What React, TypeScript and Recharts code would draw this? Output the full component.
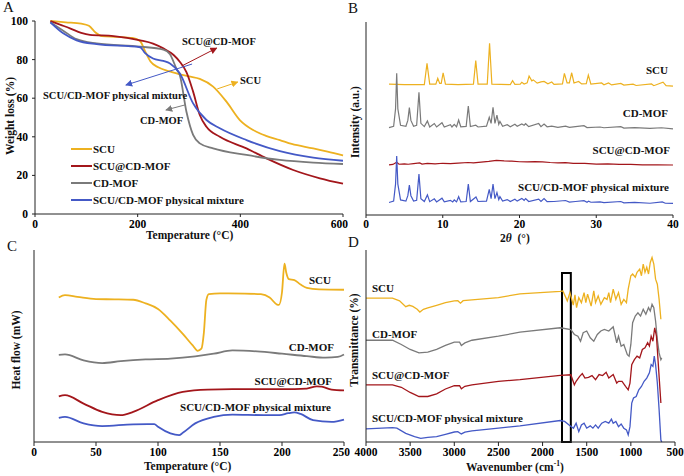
import React from "react";
import {
  LineChart,
  Line,
  XAxis,
  YAxis,
  Legend,
  ReferenceLine,
  ReferenceArea,
} from "recharts";

type Pt = [number, number];

const FONT = '"Liberation Serif", "Times New Roman", serif';
const YELLOW = "#EDB120";
const RED = "#A3161B";
const GRAY = "#7A7A7A";
const BLUE = "#4459C6";
const AXIS = "#222";

// series names, shared by all four panels
const SCU = "SCU";
const SCU_CD = "SCU@CD-MOF";
const CD = "CD-MOF";
const MIX = "SCU/CD-MOF physical mixture";

// A: TGA, temperature (°C) vs weight (%)
const tgaScu: Pt[] = [
  [30, 100], [60, 99.3], [90, 98.6], [105, 97.5], [118, 94], [130, 92.2], [160, 91.8],
  [190, 91.2], [205, 89.5], [215, 84], [225, 79], [240, 76], [260, 74], [282, 72.4],
  [300, 71.3], [321, 70], [347, 66], [373, 58.2], [399, 48.7], [425, 43.5], [450, 40.5],
  [477, 38.3], [500, 36.3], [542, 34], [570, 32.3], [600, 30.3],
];
const tgaScuCd: Pt[] = [
  [30, 100], [50, 98], [68, 96.2], [90, 93.8], [107, 92.8], [153, 92.2], [205, 90],
  [230, 88.3], [250, 85.8], [270, 82.4], [282, 78.9], [295, 73.5], [308, 63.4], [321, 51.3],
  [334, 45.2], [360, 40], [412, 34], [451, 28.8], [503, 22.8], [555, 18.5], [600, 15.7],
];
const tgaCd: Pt[] = [
  [30, 99.3], [55, 95], [81, 90.6], [120, 88.4], [205, 86.7], [250, 85.2], [263, 82.8],
  [276, 75], [282, 72], [295, 53], [308, 41], [321, 36.6], [347, 34], [412, 30.6],
  [477, 28], [542, 26.6], [600, 25.9],
];
const tgaMix: Pt[] = [
  [30, 99.3], [55, 93.6], [81, 90], [120, 88], [205, 86.4], [214, 83.5], [230, 80.6],
  [250, 79.3], [263, 78], [282, 72.9], [308, 57.3], [334, 48.7], [360, 44.4], [412, 38.3],
  [477, 32.6], [542, 29.2], [600, 27.6],
];
// arrows pointing at the curve names, in data units: from -> to
const tgaArrows = [
  { id: "red", color: RED, from: [286, 76.7], to: [354, 86] },
  { id: "yellow", color: YELLOW, from: [355, 64.8], to: [395, 68.4] },
  { id: "blue", color: BLUE, from: [306, 77.7], to: [177, 66.8] },
  { id: "gray", color: GRAY, from: [292, 56.5], to: [255, 53.9] },
];

// B: XRD, 2θ vs intensity (a.u., stacked)
const xrdScu: Pt[] = [
  [3, 67.8], [5, 67.6], [7.6, 67.6], [7.95, 78.6], [8.3, 67.8], [9.1, 67.8], [9.35, 70.8],
  [9.6, 68.2], [9.8, 68.2], [10.05, 73.7], [10.35, 67.8], [12, 67.6], [14.0, 67.8],
  [14.3, 80], [14.6, 67.8], [15.8, 67.8], [16.1, 89], [16.4, 67.8], [18.8, 67.6],
  [19.1, 69.6], [19.4, 67.7], [20.1, 67.8], [20.3, 68.8], [20.6, 67.9], [21.0, 68.5],
  [21.25, 72], [21.6, 69.5], [21.8, 70], [22.3, 68.3], [22.8, 69], [23.2, 69.2],
  [23.7, 68], [24.2, 68.9], [24.5, 67.7], [25.6, 67.9], [25.85, 73.4], [26.2, 68.5],
  [26.5, 68.5], [26.8, 73.7], [27.1, 68.4], [27.7, 69.2], [28.1, 67.9], [28.7, 68],
  [28.97, 72.5], [29.3, 67.8], [30.7, 68.4], [31, 67.5], [31.6, 68.4], [32, 67.4],
  [33.2, 68.2], [33.6, 67.3], [34.8, 67.8], [35.2, 67.1], [37.2, 67.9], [37.5, 67],
  [38.7, 68.8], [39.1, 67], [40, 66.8],
];
const xrdCd: Pt[] = [
  [3, 45.3], [3.6, 46], [3.85, 55], [4.0, 73.4], [4.15, 55], [4.5, 46.5], [5.2, 46],
  [5.45, 49], [5.65, 55.6], [5.85, 49], [6.2, 46], [6.6, 46.5], [6.9, 63.6], [7.15, 47.5],
  [7.6, 45.8], [8.0, 48.7], [8.3, 45.6], [8.9, 47.4], [9.2, 45.6], [9.9, 47.8], [10.2, 45.6],
  [11.0, 46.8], [11.2, 45.6], [11.5, 47], [11.8, 45.7], [12.07, 49.2], [12.35, 45.7],
  [13.05, 45.9], [13.33, 56.5], [13.6, 45.8], [14.3, 46.5], [14.6, 45.6], [15.7, 46],
  [16.06, 50.6], [16.3, 47.5], [16.55, 55.8], [16.8, 47.5], [17.06, 51.8], [17.3, 47],
  [17.45, 48.5], [17.8, 46], [18.4, 46.8], [18.8, 45.7], [19.4, 47], [19.7, 46],
  [20.3, 47.2], [20.6, 46.5], [20.8, 47.3], [21.2, 45.8], [22.5, 47.4], [22.8, 45.8],
  [23.2, 47.1], [23.6, 45.7], [24.2, 46], [25, 45.4], [26, 46], [26.5, 45.4], [27.3, 45.8],
  [28.4, 46.3], [28.8, 45.3], [30.5, 45.6], [31, 45.2], [33.2, 45.8], [33.6, 45],
  [35, 45.3], [37, 44.9], [38.5, 45.2], [40, 44.6],
];
const xrdScuCd: Pt[] = [
  [3, 26], [3.5, 26.2], [4.0, 27.3], [4.3, 26.3], [5, 26.5], [5.5, 26.3], [6.2, 26.6],
  [7.0, 27], [7.3, 26.4], [8, 26.7], [9, 26.5], [10, 26.8], [11, 26.6], [12, 26.9],
  [13.3, 27.2], [14, 27], [15, 27.4], [16, 27.8], [17, 28.3], [18, 28], [19, 27.9],
  [20, 27.6], [21, 27.5], [22, 27.7], [23, 27.5], [24, 27.2], [25, 27], [26, 27.1],
  [27, 26.7], [28.5, 26.7], [30, 26.4], [31.5, 26.5], [33, 26.2], [34.5, 26.2],
  [36, 26], [38, 26], [40, 25.9],
];
const xrdMix: Pt[] = [
  [3, 6.5], [3.6, 7.2], [3.85, 16], [4.0, 30.6], [4.15, 16], [4.5, 7.8], [5.2, 7.2],
  [5.45, 10], [5.65, 15.5], [5.85, 10], [6.2, 7.2], [6.6, 7.6], [6.9, 21.2], [7.15, 8.5],
  [7.6, 7], [8.0, 10.4], [8.3, 6.9], [8.9, 8.4], [9.2, 6.8], [9.9, 8.7], [10.2, 6.8],
  [11.0, 7.6], [11.3, 6.8], [11.5, 7.8], [11.8, 6.8], [12.07, 9.5], [12.35, 6.8],
  [13.05, 7], [13.33, 16], [13.6, 7], [14.33, 9.3], [14.6, 7], [15.7, 7.2], [16.06, 13.3],
  [16.3, 8.5], [16.55, 16], [16.8, 8.5], [17.06, 11.6], [17.3, 8], [17.45, 9.5],
  [17.8, 7.2], [18.4, 8], [18.8, 7], [19.4, 8.2], [19.7, 7.2], [20.3, 8.6], [20.6, 7.6],
  [20.8, 8.5], [21.2, 7], [22.5, 8.2], [22.8, 7], [23.2, 8.5], [23.6, 6.9], [24.5, 7],
  [26, 7.5], [26.5, 6.7], [27.3, 7], [28.4, 7.4], [28.8, 6.6], [29, 7.2], [29.3, 6.6],
  [30.5, 6.8], [31, 6.4], [33.2, 7], [33.6, 6.3], [35, 6.5], [37, 6.1], [38.6, 6.8],
  [39, 6.1], [40, 6],
];

// C: DSC, temperature (°C) vs heat flow (stacked)
const dscScu: Pt[] = [
  [20, 75.3], [25, 76.5], [35, 75.6], [50, 74.4], [65, 74.3], [80, 74.1], [90, 72.2],
  [100, 69.3], [110, 63.2], [120, 56.3], [128, 50.3], [132, 47.5], [135, 48.6], [137, 57],
  [139, 74], [141, 77], [150, 77.4], [170, 77.3], [183, 77], [190, 75.3], [196, 71.6],
  [197.5, 71.4], [200, 78], [202, 92.9], [203.5, 88], [205.5, 84.8], [210, 84.3],
  [215, 82], [220, 80.3], [230, 79.5], [250, 79.3],
];
const dscCd: Pt[] = [
  [20, 45.4], [25, 45.6], [40, 42.5], [55, 41.1], [70, 42.1], [90, 43], [110, 43.4],
  [130, 44.6], [145, 46], [160, 47.7], [180, 47.2], [200, 46], [220, 44.7], [235, 43.9],
  [245, 44.3], [250, 45.6],
];
const dscScuCd: Pt[] = [
  [20, 23.8], [25, 24.4], [40, 20], [55, 15.7], [70, 14], [80, 15.7], [100, 21.8],
  [120, 26.1], [140, 27.3], [160, 27.5], [200, 27.5], [220, 27.8], [228, 29], [232, 28.8],
  [240, 27.3], [250, 26.9],
];
const dscMix: Pt[] = [
  [20, 12.6], [25, 13.1], [40, 9.7], [55, 8.3], [80, 9.2], [97, 9.3], [100, 7.9],
  [110, 4.5], [117, 3.6], [120, 4.8], [130, 9.7], [145, 13.1], [160, 14.3], [185, 14],
  [198, 14], [205, 15], [210, 15.4], [215, 14.6], [225, 11.4], [240, 10.5], [250, 11.7],
];

// D: FTIR, wavenumber (cm-1) vs transmittance (stacked)
const ftirScu: Pt[] = [
  [4000, 74.9], [3700, 74.9], [3620, 73.5], [3550, 70.5], [3510, 71.2], [3470, 70.6],
  [3420, 69.1], [3390, 67.7], [3350, 69.1], [3300, 69.8], [3200, 71.2], [3100, 72.6],
  [3000, 73.5], [2960, 73.6], [2930, 72.3], [2900, 73.6], [2800, 74], [2500, 75.2],
  [2256, 77.2], [1800, 78.4], [1770, 78.7], [1720, 73.5], [1690, 77.8], [1652, 71.3],
  [1633, 76.6], [1615, 70], [1590, 75.2], [1560, 72.6], [1530, 77.8], [1510, 72.6],
  [1490, 77], [1450, 70.8], [1420, 78.7], [1400, 72.6], [1370, 76.1], [1340, 71.7],
  [1300, 75.2], [1270, 74.3], [1250, 77.8], [1230, 72.6], [1200, 79.6], [1170, 74.3],
  [1140, 77.8], [1110, 71.7], [1080, 74.3], [1050, 72.6], [1030, 79.6], [1000, 86.6],
  [980, 87.5], [950, 85.8], [930, 88.4], [900, 90], [880, 86.6], [860, 92.7], [840, 88.4],
  [820, 91], [800, 87.5], [780, 93.5], [760, 96.1], [740, 92.7], [720, 84.8], [700, 82.2],
  [680, 74.3], [660, 63.9],
];
const ftirCd: Pt[] = [
  [4000, 53], [3700, 53], [3600, 50.8], [3500, 48.2], [3400, 46.4], [3300, 46.8],
  [3200, 48.2], [3100, 50.3], [3000, 52], [2940, 52], [2920, 50.3], [2880, 51.6],
  [2800, 53], [2500, 55.1], [2256, 57.2], [1800, 59.5], [1680, 58.6], [1640, 56],
  [1600, 55.1], [1570, 52.5], [1540, 56.9], [1500, 57.8], [1460, 54.3], [1420, 52.5],
  [1380, 56], [1340, 57.8], [1300, 58.6], [1250, 57.8], [1200, 60], [1160, 51.7],
  [1140, 55.1], [1110, 49.9], [1080, 50.8], [1040, 45.5], [1020, 44.7], [1000, 50.8],
  [980, 62.1], [950, 65.6], [920, 67.3], [890, 65.6], [860, 69.1], [830, 66.5], [800, 70],
  [780, 68.2], [760, 71.7], [740, 70], [720, 63], [700, 53.4], [680, 46.4], [660, 42.9],
  [650, 43.8],
];
const ftirScuCd: Pt[] = [
  [4000, 29.8], [3700, 29.8], [3600, 28.5], [3500, 25.8], [3400, 23.7], [3300, 23.7],
  [3200, 25.1], [3100, 27.6], [3000, 29.3], [2940, 29.3], [2920, 27.7], [2880, 29],
  [2800, 29.8], [2500, 31.6], [2256, 32.5], [1800, 34.7], [1680, 35], [1640, 29.8],
  [1620, 31.6], [1580, 34.2], [1550, 35.6], [1520, 33.3], [1480, 33.7], [1440, 34.6],
  [1400, 32.5], [1360, 35.1], [1320, 34.6], [1280, 36.3], [1250, 33.3], [1200, 35.1],
  [1160, 30.7], [1140, 31.6], [1100, 31.6], [1060, 29], [1030, 27.2], [1010, 30.7],
  [990, 40.3], [960, 42.9], [930, 44.7], [900, 43.8], [870, 48.2], [840, 49.1],
  [810, 51.7], [790, 50], [770, 55.1], [750, 52.5], [730, 59.5], [710, 55.1], [700, 48.2],
  [680, 34.2], [660, 20.3],
];
const ftirMix: Pt[] = [
  [4000, 6.8], [3700, 7.5], [3650, 7.2], [3550, 4.5], [3450, 2.8], [3380, 1.9],
  [3300, 2.4], [3200, 2.8], [3100, 4], [3000, 5.2], [2960, 5.4], [2920, 4.2], [2880, 5.1],
  [2800, 5.8], [2500, 7.2], [2256, 8.4], [1800, 11.2], [1750, 10.7], [1700, 8.9],
  [1650, 7.2], [1620, 9.8], [1590, 5.4], [1560, 8.9], [1530, 9.8], [1500, 7.2],
  [1460, 8.4], [1430, 7.2], [1400, 8.9], [1370, 7.2], [1330, 9.8], [1290, 10.7],
  [1250, 9.8], [1220, 11.9], [1200, 9.8], [1170, 10.7], [1140, 8], [1110, 9.4], [1080, 7.2],
  [1050, 6.3], [1030, 3.7], [1010, 8], [990, 20.3], [970, 22.9], [940, 23.7], [910, 27.2],
  [880, 28.9], [850, 31.6], [820, 33.3], [790, 36], [770, 40.3], [750, 39.4], [735, 44.7],
  [720, 40.3], [700, 30.7], [680, 16.8], [660, 1], [650, 0],
];
// the boxed band around 1700 cm-1
const ftirBox = { from: 1780, to: 1680, top: 88 };

const tgaTicksX = [0, 200, 400, 600];
const tgaTicksY = [0, 20, 40, 60, 80, 100];
const xrdTicks = [0, 10, 20, 30, 40];
const dscTicks = [0, 50, 100, 150, 200, 250];
const ftirTicks = [4000, 3500, 3000, 2500, 2000, 1500, 1000, 500];

const pts = (a: Pt[]) => a.map(([x, y]) => ({ x, y }));

const tickStyle = { fill: "#000", fontSize: 11.5, fontWeight: 700, fontFamily: FONT };

function Tag({ x, y, end, size = 11, children }: any) {
  return (
    <div
      style={{
        position: "absolute",
        left: x,
        top: y,
        transform: `translate(${end ? "-100%" : "0"}, -50%)`,
        fontFamily: FONT,
        fontWeight: 700,
        fontSize: size,
        lineHeight: 1,
        whiteSpace: "nowrap",
        color: "#111",
      }}
    >
      {children}
    </div>
  );
}

function VTitle({ x, y, children }: any) {
  return (
    <div
      style={{
        position: "absolute",
        left: x,
        top: y,
        transform: "translate(-50%, -50%) rotate(-90deg)",
        fontFamily: FONT,
        fontWeight: 700,
        fontSize: 11.5,
        lineHeight: 1,
        whiteSpace: "nowrap",
        color: "#111",
      }}
    >
      {children}
    </div>
  );
}

function Letter({ x, y, children }: any) {
  return (
    <div style={{ position: "absolute", left: x, top: y, fontFamily: FONT, fontSize: 15, lineHeight: 1, color: "#111" }}>
      {children}
    </div>
  );
}

function series(list: [Pt[], string, string][], width: number, type: "monotone" | "linear") {
  return list.map(([d, name, color]) => (
    <Line
      key={name}
      data={pts(d)}
      dataKey="y"
      name={name}
      type={type}
      stroke={color}
      strokeWidth={width}
      dot={false}
      activeDot={false}
      isAnimationActive={false}
    />
  ));
}

function TgaLegend() {
  const items: [string, string][] = [
    [SCU, YELLOW],
    [SCU_CD, RED],
    [CD, GRAY],
    [MIX, BLUE],
  ];
  return (
    <div style={{ fontFamily: FONT, fontWeight: 700, fontSize: 11, color: "#111" }}>
      {items.map(([n, c]) => (
        <div key={n} style={{ display: "flex", alignItems: "center", height: 16.8, whiteSpace: "nowrap" }}>
          <svg width={21} height={4} style={{ marginRight: 1 }}>
            <line x1={0} y1={2} x2={21} y2={2} stroke={c} strokeWidth={2} />
          </svg>
          <span>{n}</span>
        </div>
      ))}
    </div>
  );
}

export default function App() {
  return (
    <div
      style={{
        position: "absolute",
        left: 0,
        top: 0,
        width: 684,
        height: 476,
        background: "#fff",
        overflow: "hidden",
        fontFamily: FONT,
      }}
    >
      <svg width={0} height={0} style={{ position: "absolute" }}>
        <defs>
          {tgaArrows.map((a) => (
            <marker
              key={a.id}
              id={`arrow-${a.id}`}
              viewBox="0 0 10 10"
              refX={9}
              refY={5}
              markerWidth={7}
              markerHeight={7}
              markerUnits="userSpaceOnUse"
              orient="auto"
            >
              <path d="M0,0 L10,5 L0,10 z" fill={a.color} />
            </marker>
          ))}
        </defs>
      </svg>

      {/* A: TGA */}
      <div style={{ position: "absolute", left: 0, top: 0 }}>
        <LineChart width={348} height={240} margin={{ top: 21, right: 5, bottom: 0, left: 0 }}>
          <XAxis type="number" dataKey="x" domain={[0, 600]} ticks={tgaTicksX} height={26}
            tick={tickStyle} tickSize={3} tickMargin={3} stroke={AXIS} />
          <YAxis type="number" domain={[0, 100]} ticks={tgaTicksY} width={35}
            tick={tickStyle} tickSize={3} tickMargin={4} stroke={AXIS} />
          {series([[tgaScu, SCU, YELLOW], [tgaScuCd, SCU_CD, RED], [tgaCd, CD, GRAY], [tgaMix, MIX, BLUE]], 1.8, "monotone")}
          {tgaArrows.map((a) => (
            <ReferenceLine
              key={a.id}
              segment={[{ x: a.from[0], y: a.from[1] }, { x: a.to[0], y: a.to[1] }]}
              stroke={a.color}
              strokeWidth={1}
              markerEnd={`url(#arrow-${a.id})`}
            />
          ))}
          <Legend
            layout="vertical"
            align="center"
            verticalAlign="middle"
            wrapperStyle={{ left: 71, top: 141, width: 200, height: 70 }}
            content={() => <TgaLegend />}
          />
        </LineChart>
      </div>

      {/* B: XRD */}
      <div style={{ position: "absolute", left: 342, top: 0 }}>
        <LineChart width={342} height={240} margin={{ top: 22, right: 11, bottom: 0, left: 0 }}>
          <XAxis type="number" dataKey="x" domain={[0, 40]} ticks={xrdTicks} height={25}
            tick={tickStyle} tickSize={3} tickMargin={2} stroke={AXIS} />
          <YAxis type="number" domain={[0, 100]} width={24} tick={false} tickLine={false} stroke={AXIS} />
          {series([[xrdScu, SCU, YELLOW], [xrdCd, CD, GRAY], [xrdScuCd, SCU_CD, RED], [xrdMix, MIX, BLUE]], 1.2, "linear")}
        </LineChart>
      </div>

      {/* C: DSC */}
      <div style={{ position: "absolute", left: 0, top: 238 }}>
        <LineChart width={350} height={238} margin={{ top: 12, right: 6, bottom: 0, left: 0 }}>
          <XAxis type="number" dataKey="x" domain={[0, 250]} ticks={dscTicks} height={34}
            tick={tickStyle} tickSize={4} tickMargin={2} stroke={AXIS} />
          <YAxis type="number" domain={[0, 100]} width={34} tick={false} tickLine={false} stroke={AXIS} />
          {series([[dscScu, SCU, YELLOW], [dscCd, CD, GRAY], [dscScuCd, SCU_CD, RED], [dscMix, MIX, BLUE]], 1.8, "monotone")}
        </LineChart>
      </div>

      {/* D: FTIR */}
      <div style={{ position: "absolute", left: 342, top: 238 }}>
        <LineChart width={342} height={238} margin={{ top: 12, right: 9, bottom: 0, left: 0 }}>
          <XAxis type="number" dataKey="x" domain={[500, 4000]} reversed ticks={ftirTicks} height={34}
            tick={tickStyle} tickSize={4} tickMargin={2} stroke={AXIS} />
          <YAxis type="number" domain={[0, 100]} width={24} tick={false} tickLine={false} stroke={AXIS} />
          {series([[ftirScu, SCU, YELLOW], [ftirCd, CD, GRAY], [ftirScuCd, SCU_CD, RED], [ftirMix, MIX, BLUE]], 1.3, "linear")}
          <ReferenceArea x1={ftirBox.from} x2={ftirBox.to} y1={0} y2={ftirBox.top}
            fill="none" fillOpacity={0} stroke="#000" strokeWidth={2} />
        </LineChart>
      </div>

      {/* panel letters */}
      <Letter x={3} y={0}>A</Letter>
      <Letter x={348} y={1}>B</Letter>
      <Letter x={7} y={239}>C</Letter>
      <Letter x={348} y={235}>D</Letter>

      {/* axis titles */}
      <VTitle x={11} y={116}>Weight loss (%)</VTitle>
      <Tag x={146} y={236} size={11.5}>Temperature (°C)</Tag>
      <VTitle x={356} y={122}>Intensity (a.u.)</VTitle>
      <Tag x={500} y={239} size={11.5}>
        2<i>θ</i>&nbsp;&nbsp;(°)
      </Tag>
      <VTitle x={17} y={350}>Heat flow (mW)</VTitle>
      <Tag x={144} y={467} size={11.5}>Temperature (°C)</Tag>
      <VTitle x={355} y={340}>Transmittance (%)</VTitle>
      <Tag x={466} y={467} size={11.5}>
        Wavenumber (cm<sup style={{ fontSize: 7.5 }}>-1</sup>)
      </Tag>

      {/* A annotations */}
      <Tag x={182} y={42} size={10.5}>{SCU_CD}</Tag>
      <Tag x={240} y={81} size={10.5}>{SCU}</Tag>
      <Tag x={43} y={96} size={10.5}>{MIX}</Tag>
      <Tag x={140} y={121} size={10.5}>{CD}</Tag>

      {/* B labels */}
      <Tag x={668} y={70} end>{SCU}</Tag>
      <Tag x={668} y={113} end>{CD}</Tag>
      <Tag x={670} y={150} end>{SCU_CD}</Tag>
      <Tag x={669} y={187} end>{MIX}</Tag>

      {/* C labels */}
      <Tag x={331} y={280} end>{SCU}</Tag>
      <Tag x={334} y={347} end>{CD}</Tag>
      <Tag x={332} y={381} end>{SCU_CD}</Tag>
      <Tag x={331} y={407} end>{MIX}</Tag>

      {/* D labels */}
      <Tag x={372} y={288}>{SCU}</Tag>
      <Tag x={372} y={334}>{CD}</Tag>
      <Tag x={372} y={375}>{SCU_CD}</Tag>
      <Tag x={372} y={418}>{MIX}</Tag>
    </div>
  );
}
